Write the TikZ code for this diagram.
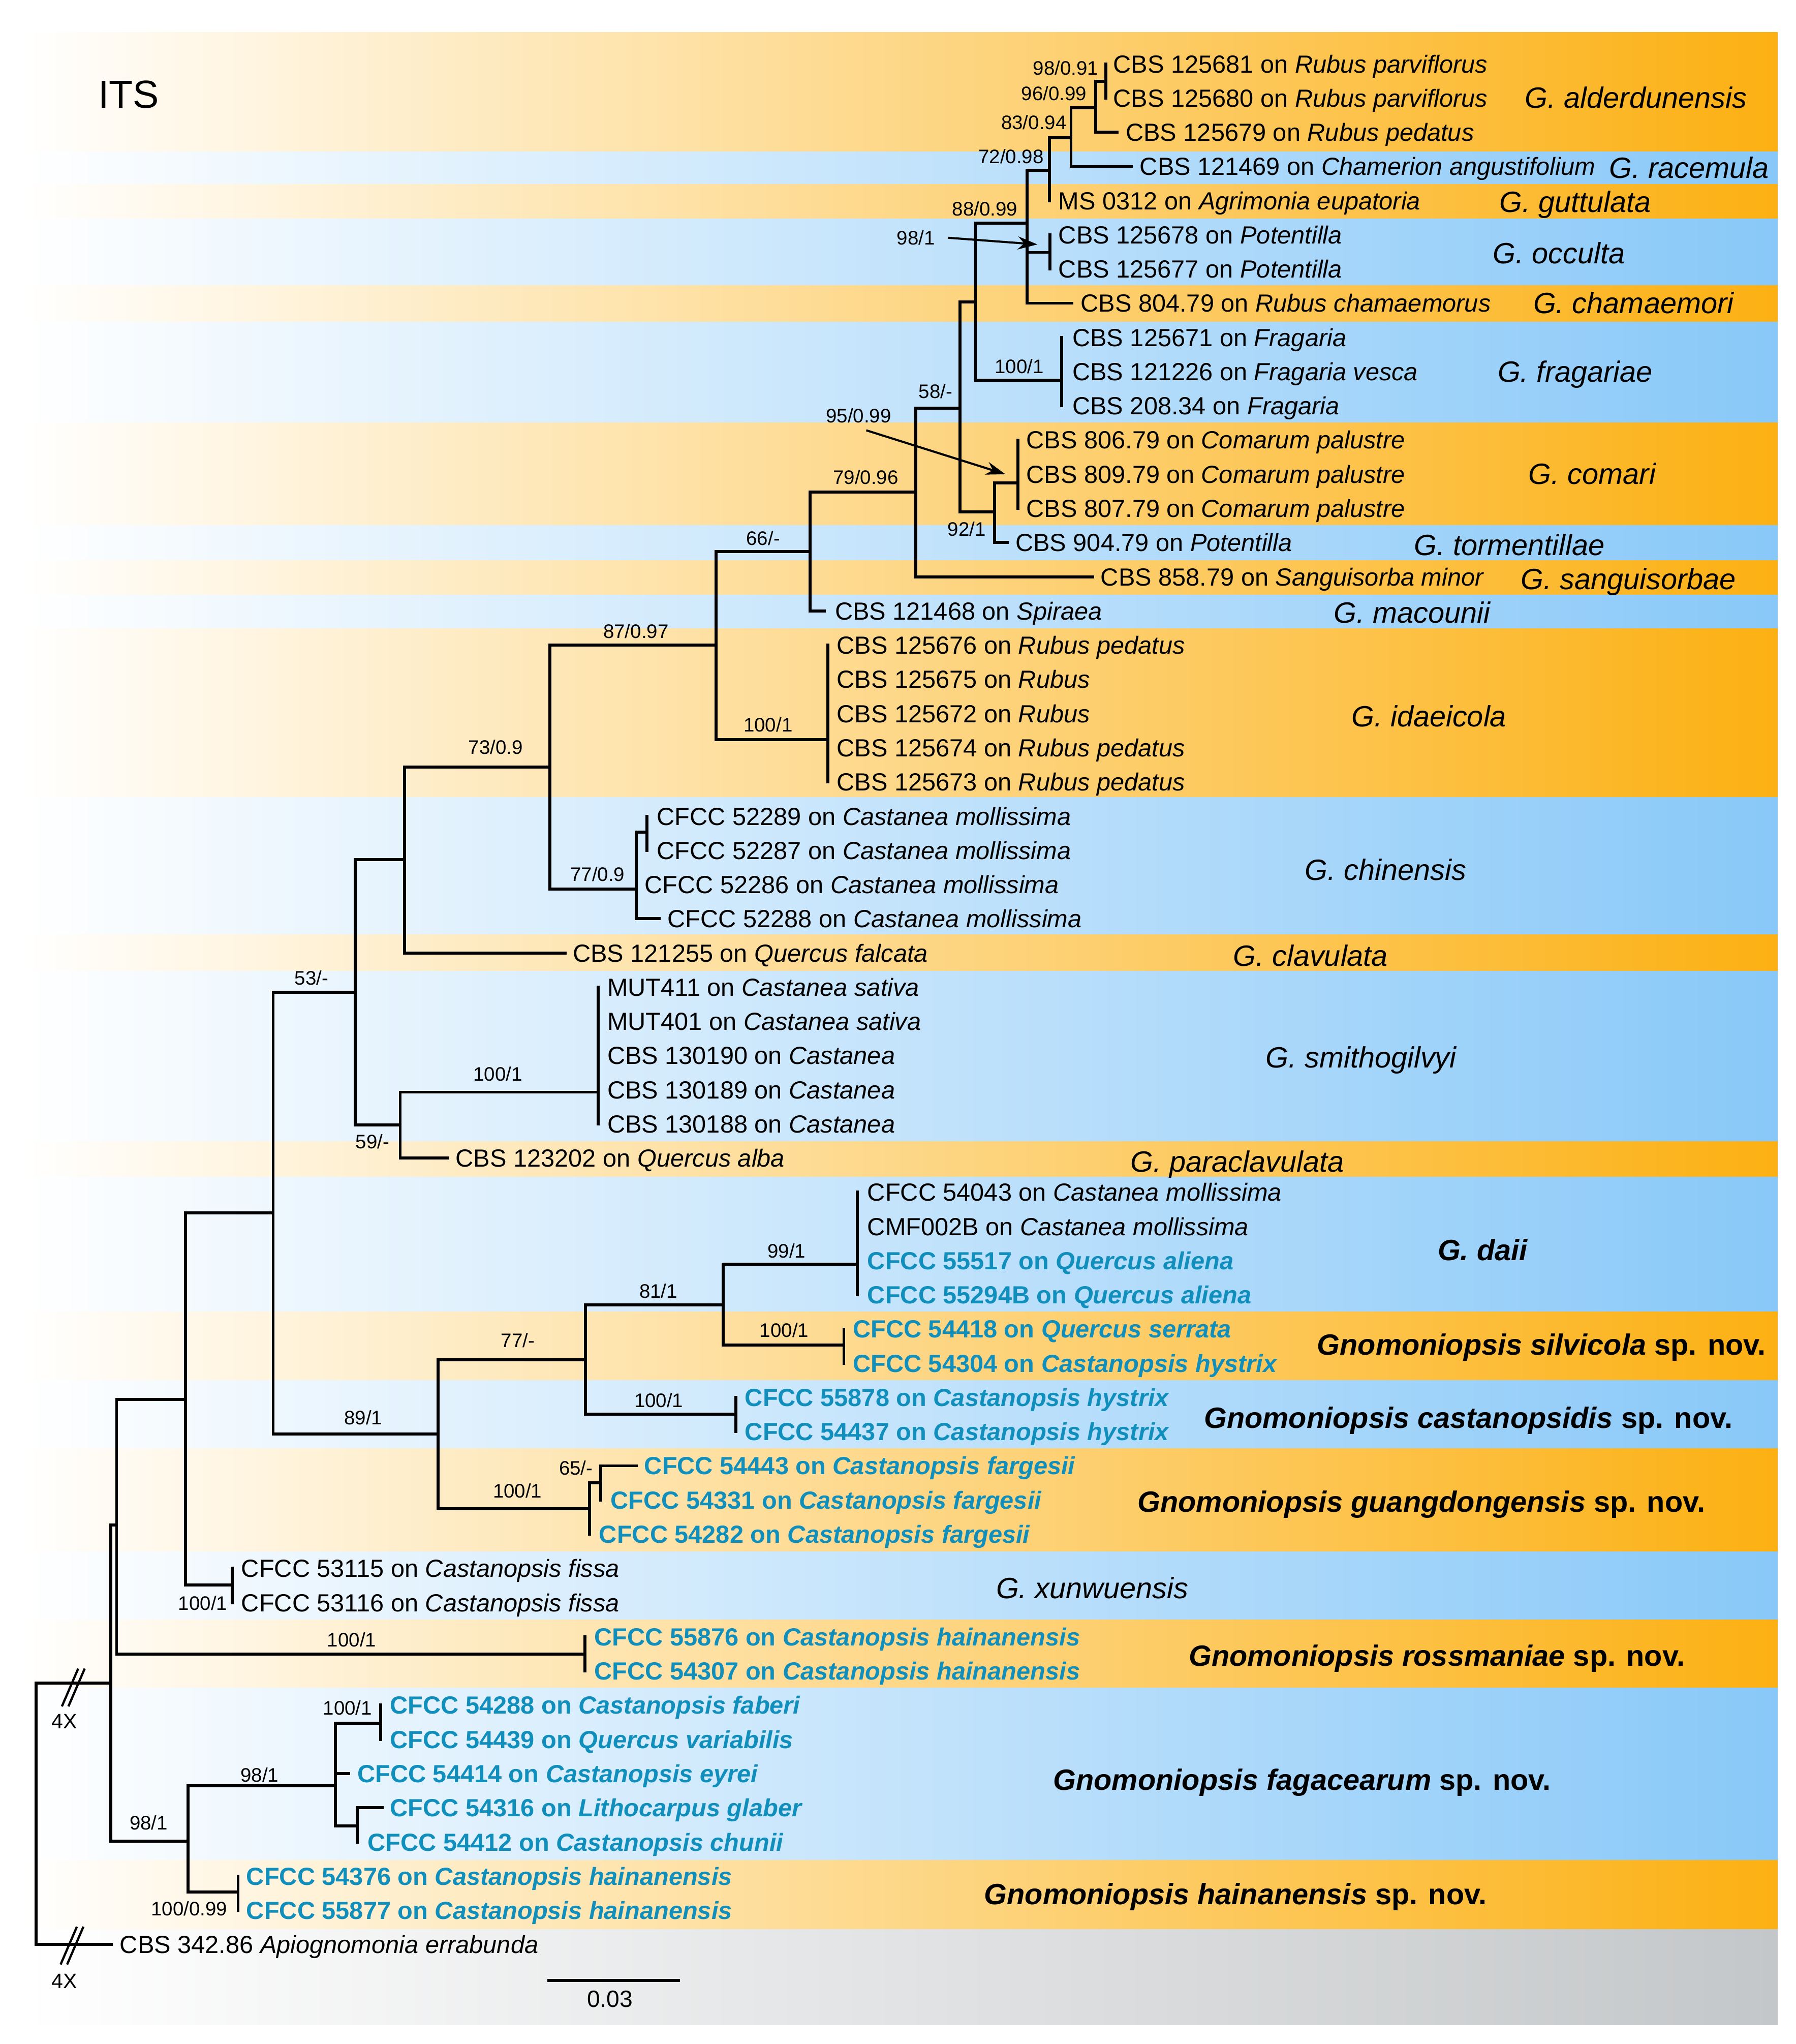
\documentclass[tikz,border=0pt]{standalone}
\usepackage{fontspec}
\setmainfont{Liberation Sans}
\usetikzlibrary{arrows.meta}
\definecolor{orgR}{RGB}{252,176,18}
\definecolor{bluR}{RGB}{136,200,248}
\definecolor{gryR}{RGB}{196,199,201}
\definecolor{leafblue}{RGB}{16,142,188}
\newcommand\BandO[2]{\shade[left color=white,right color=orgR] (17,#1) rectangle (1364,#2);}
\newcommand\BandB[2]{\shade[left color=white,right color=bluR] (17,#1) rectangle (1364,#2);}
\newcommand\BandG[2]{\shade[left color=white,right color=gryR] (17,#1) rectangle (1364,#2);}
\begin{document}
\begin{tikzpicture}[x=1pt,y=-1pt,
  br/.style={line width=2.3pt,line join=miter,line cap=rect},
  lf/.style={anchor=west,inner sep=0pt,font=\fontsize{19}{22}\selectfont,text height=13.6pt,text depth=0pt},
  lfb/.style={lf,text=leafblue,font=\fontsize{19}{22}\selectfont\bfseries},
  sup/.style={anchor=east,inner sep=0pt,font=\fontsize{15}{18}\selectfont,text height=10.7pt,text depth=0pt},
  spc/.style={anchor=west,inner sep=0pt,font=\fontsize{22.5}{26}\selectfont\itshape,text height=16.1pt,text depth=0pt},
  spb/.style={anchor=west,inner sep=0pt,font=\fontsize{22.5}{26}\selectfont\bfseries,text height=16.1pt,text depth=0pt},
  arr/.style={line width=1.6pt,-{Stealth[length=15pt,width=10pt]}}
]
\useasboundingbox (0,0) rectangle (1378,1568);
\fill[white] (0,0) rectangle (1378,1568);
% bands
\BandO{24.6}{116.5}
\BandB{116.5}{141.2}
\BandO{141.2}{168}
\BandB{168}{219}
\BandO{219}{247}
\BandB{247}{324.4}
\BandO{324.4}{403}
\BandB{403}{430}
\BandO{430}{456.5}
\BandB{456.5}{482}
\BandO{482}{611.5}
\BandB{611.5}{717}
\BandO{717}{745}
\BandB{745}{875.5}
\BandO{875.5}{903}
\BandB{903}{1006.3}
\BandO{1006.3}{1058.8}
\BandB{1058.8}{1111.2}
\BandO{1111.2}{1190.3}
\BandB{1190.3}{1242.5}
\BandO{1242.5}{1295}
\BandB{1295}{1427}
\BandO{1427}{1480}
\BandG{1480}{1553.2}

\node[anchor=west,inner sep=0pt,font=\fontsize{30}{34}\selectfont,text height=21.5pt,text depth=0pt] (its) at (75.2,72) {ITS};

% internal nodes
\coordinate (root) at (27.8,1390);
\coordinate (nA) at (85.1,1291.1);
\coordinate (nB) at (89.5,1169.8);
\coordinate (nC) at (142.4,1073.6);
\coordinate (nD) at (209.6,930.5);
\coordinate (nE) at (272.5,761.3);
\coordinate (nG) at (310.4,659.5);
\coordinate (nI) at (421.9,588.3);
\coordinate (nJ) at (549.4,494.7);
\coordinate (nL) at (621.7,423);
\coordinate (nM) at (702.8,377.5);
\coordinate (nN) at (736.5,313.3);
\coordinate (nO) at (748.5,231.6);
\coordinate (nP5) at (788,171.3);
\coordinate (nP4) at (805.4,130.6);
\coordinate (nP3) at (821.8,105.6);
\coordinate (nP2) at (840.8,82.5);
\coordinate (nP1) at (848.5,62.5);
\coordinate (nQ) at (805.6,193.6);
\coordinate (nFr) at (814.7,291.8);
\coordinate (nR) at (763.1,392.8);
\coordinate (nS) at (781.2,370.6);
\coordinate (nIda) at (635.1,567.3);
\coordinate (nK) at (488.2,681.9);
\coordinate (nK2) at (496.4,638.5);
\coordinate (nH) at (307.1,862.8);
\coordinate (nSmi) at (458.8,837.8);
\coordinate (nF) at (336.2,1100.2);
\coordinate (nT) at (449.3,1043);
\coordinate (nV) at (554.9,1001.1);
\coordinate (nDaii) at (657.8,969.7);
\coordinate (nSil) at (647.5,1031.7);
\coordinate (nCas) at (564.7,1085);
\coordinate (nU) at (452.2,1157.3);
\coordinate (nU2) at (460.8,1137.4);
\coordinate (nXun) at (178.2,1216);
\coordinate (nRos) at (449,1268.8);
\coordinate (nX) at (144.2,1412.4);
\coordinate (nY) at (257.4,1370);
\coordinate (nZ1) at (291.9,1321.8);
\coordinate (nZ2) at (274,1400.7);
\coordinate (nHai) at (182.7,1451.4);

% leaf tips
\coordinate (t1) at (848.5,49.0);
\coordinate (t2) at (848.5,75.2);
\coordinate (t3) at (857.2,101.5);
\coordinate (t4) at (868,127.7);
\coordinate (t5) at (805.4,153.9);
\coordinate (t6) at (805.6,180.2);
\coordinate (t7) at (805.6,206.4);
\coordinate (t8) at (822.6,232.6);
\coordinate (t9) at (814.7,258.8);
\coordinate (t10) at (814.7,285.1);
\coordinate (t11) at (814.7,311.3);
\coordinate (t12) at (781.2,337.5);
\coordinate (t13) at (781.2,363.8);
\coordinate (t14) at (781.2,390.0);
\coordinate (t15) at (772.8,416.2);
\coordinate (t16) at (838.5,442.5);
\coordinate (t17) at (632.5,468.7);
\coordinate (t18) at (635.1,494.9);
\coordinate (t19) at (635.1,521.1);
\coordinate (t20) at (635.1,547.4);
\coordinate (t21) at (635.1,573.6);
\coordinate (t22) at (635.1,599.8);
\coordinate (t23) at (496.4,626.1);
\coordinate (t24) at (496.4,652.3);
\coordinate (t25) at (488.2,678.5);
\coordinate (t26) at (505.7,704.8);
\coordinate (t27) at (433.7,731.0);
\coordinate (t28) at (458.8,757.2);
\coordinate (t29) at (458.8,783.4);
\coordinate (t30) at (458.8,809.7);
\coordinate (t31) at (458.8,835.9);
\coordinate (t32) at (458.8,862.1);
\coordinate (t33) at (343.3,888.4);
\coordinate (t34) at (657.8,914.6);
\coordinate (t35) at (657.8,940.8);
\coordinate (t36) at (657.8,967.1);
\coordinate (t37) at (657.8,993.3);
\coordinate (t38) at (647.5,1019.5);
\coordinate (t39) at (647.5,1045.7);
\coordinate (t40) at (564.7,1072.0);
\coordinate (t41) at (564.7,1098.2);
\coordinate (t42) at (488.4,1124.4);
\coordinate (t43) at (460.8,1150.7);
\coordinate (t44) at (452.2,1176.9);
\coordinate (t45) at (178.2,1203.1);
\coordinate (t46) at (178.2,1229.4);
\coordinate (t47) at (449,1255.6);
\coordinate (t48) at (449,1281.8);
\coordinate (t49) at (291.9,1308.0);
\coordinate (t50) at (291.9,1334.3);
\coordinate (t51) at (267.7,1360.5);
\coordinate (t52) at (293.2,1386.7);
\coordinate (t53) at (274,1413.0);
\coordinate (t54) at (182.7,1439.2);
\coordinate (t55) at (182.7,1465.4);
\coordinate (t56) at (85.5,1491.7);

% branches
\foreach \p/\c in {root/nA,root/t56,nA/nB,nA/nX,nB/nC,nB/nRos,nRos/t47,nRos/t48,
  nC/nD,nC/nXun,nXun/t45,nXun/t46,nD/nE,nD/nF,nE/nG,nE/nH,nG/nI,nG/t27,
  nI/nJ,nI/nK,nJ/nL,nJ/nIda,nIda/t18,nIda/t19,nIda/t20,nIda/t21,nIda/t22,
  nL/nM,nL/t17,nM/nN,nM/t16,nN/nO,nN/nR,nO/nP5,nO/nFr,nFr/t9,nFr/t10,nFr/t11,
  nP5/nP4,nP5/nQ,nP5/t8,nQ/t6,nQ/t7,nP4/nP3,nP4/t5,nP3/nP2,nP3/t4,nP2/nP1,nP2/t3,
  nP1/t1,nP1/t2,nR/nS,nR/t15,nS/t12,nS/t13,nS/t14,nK/nK2,nK/t25,nK/t26,nK2/t23,nK2/t24,
  nH/nSmi,nH/t33,nSmi/t28,nSmi/t29,nSmi/t30,nSmi/t31,nSmi/t32,nF/nT,nF/nU,
  nT/nV,nT/nCas,nV/nDaii,nV/nSil,nDaii/t34,nDaii/t35,nDaii/t36,nDaii/t37,
  nSil/t38,nSil/t39,nCas/t40,nCas/t41,nU/nU2,nU/t44,nU2/t42,nU2/t43,
  nX/nY,nX/nHai,nY/nZ1,nY/t51,nY/nZ2,nZ1/t49,nZ1/t50,nZ2/t52,nZ2/t53,nHai/t54,nHai/t55}
  \draw[br] (\p) |- (\c);

% break marks
\draw[line width=1.7pt] (47.5,1309) -- (60,1280) (52.5,1309) -- (65,1280);
\draw[line width=1.7pt] (46.5,1507) -- (59,1478) (51.5,1507) -- (64,1478);
\node[inner sep=0pt,font=\fontsize{16}{19}\selectfont] (x4a) at (49.3,1320.5) {4X};
\node[inner sep=0pt,font=\fontsize{16}{19}\selectfont] (x4b) at (49.3,1519.7) {4X};

% scale bar
\coordinate (sbl) at (420,1519.2);
\coordinate (sbr) at (521.6,1519.2);
\draw[line width=2.3pt] (sbl) -- (sbr);
\node[inner sep=0pt,font=\fontsize{18}{21}\selectfont] (sbt) at (468,1533.7) {0.03};

% leaf labels
\node[lf] (l1) at (854,49.0) {CBS 125681 on \textit{Rubus parviflorus}};
\node[lf] (l2) at (854,75.2) {CBS 125680 on \textit{Rubus parviflorus}};
\node[lf] (l3) at (863.6,101.5) {CBS 125679 on \textit{Rubus pedatus}};
\node[lf] (l4) at (874.4,127.7) {CBS 121469 on \textit{Chamerion angustifolium}};
\node[lf] (l5) at (812,153.9) {MS 0312 on \textit{Agrimonia eupatoria}};
\node[lf] (l6) at (812,180.2) {CBS 125678 on \textit{Potentilla}};
\node[lf] (l7) at (812,206.4) {CBS 125677 on \textit{Potentilla}};
\node[lf] (l8) at (829,232.6) {CBS 804.79 on \textit{Rubus chamaemorus}};
\node[lf] (l9) at (822.7,258.8) {CBS 125671 on \textit{Fragaria}};
\node[lf] (l10) at (822.7,285.1) {CBS 121226 on \textit{Fragaria vesca}};
\node[lf] (l11) at (822.7,311.3) {CBS 208.34 on \textit{Fragaria}};
\node[lf] (l12) at (787.4,337.5) {CBS 806.79 on \textit{Comarum palustre}};
\node[lf] (l13) at (787.4,363.8) {CBS 809.79 on \textit{Comarum palustre}};
\node[lf] (l14) at (787.4,390.0) {CBS 807.79 on \textit{Comarum palustre}};
\node[lf] (l15) at (779,416.2) {CBS 904.79 on \textit{Potentilla}};
\node[lf] (l16) at (844.4,442.5) {CBS 858.79 on \textit{Sanguisorba minor}};
\node[lf] (l17) at (640.5,468.7) {CBS 121468 on \textit{Spiraea}};
\node[lf] (l18) at (641.8,494.9) {CBS 125676 on \textit{Rubus pedatus}};
\node[lf] (l19) at (641.8,521.1) {CBS 125675 on \textit{Rubus}};
\node[lf] (l20) at (641.8,547.4) {CBS 125672 on \textit{Rubus}};
\node[lf] (l21) at (641.8,573.6) {CBS 125674 on \textit{Rubus pedatus}};
\node[lf] (l22) at (641.8,599.8) {CBS 125673 on \textit{Rubus pedatus}};
\node[lf] (l23) at (503.8,626.1) {CFCC 52289 on \textit{Castanea mollissima}};
\node[lf] (l24) at (503.8,652.3) {CFCC 52287 on \textit{Castanea mollissima}};
\node[lf] (l25) at (494.5,678.5) {CFCC 52286 on \textit{Castanea mollissima}};
\node[lf] (l26) at (512,704.8) {CFCC 52288 on \textit{Castanea mollissima}};
\node[lf] (l27) at (439.3,731.0) {CBS 121255 on \textit{Quercus falcata}};
\node[lf] (l28) at (465.8,757.2) {MUT411 on \textit{Castanea sativa}};
\node[lf] (l29) at (465.8,783.4) {MUT401 on \textit{Castanea sativa}};
\node[lf] (l30) at (465.8,809.7) {CBS 130190 on \textit{Castanea}};
\node[lf] (l31) at (465.8,835.9) {CBS 130189 on \textit{Castanea}};
\node[lf] (l32) at (465.8,862.1) {CBS 130188 on \textit{Castanea}};
\node[lf] (l33) at (349.5,888.4) {CBS 123202 on \textit{Quercus alba}};
\node[lf] (l34) at (665.4,914.6) {CFCC 54043 on \textit{Castanea mollissima}};
\node[lf] (l35) at (665.4,940.8) {CMF002B on \textit{Castanea mollissima}};
\node[lfb] (l36) at (665.4,967.1) {CFCC 55517 on \textit{Quercus aliena}};
\node[lfb] (l37) at (665.4,993.3) {CFCC 55294B on \textit{Quercus aliena}};
\node[lfb] (l38) at (654.2,1019.5) {CFCC 54418 on \textit{Quercus serrata}};
\node[lfb] (l39) at (654.2,1045.7) {CFCC 54304 on \textit{Castanopsis hystrix}};
\node[lfb] (l40) at (571.4,1072.0) {CFCC 55878 on \textit{Castanopsis hystrix}};
\node[lfb] (l41) at (571.4,1098.2) {CFCC 54437 on \textit{Castanopsis hystrix}};
\node[lfb] (l42) at (494.2,1124.4) {CFCC 54443 on \textit{Castanopsis fargesii}};
\node[lfb] (l43) at (468.4,1150.7) {CFCC 54331 on \textit{Castanopsis fargesii}};
\node[lfb] (l44) at (459.5,1176.9) {CFCC 54282 on \textit{Castanopsis fargesii}};
\node[lf] (l45) at (185,1203.1) {CFCC 53115 on \textit{Castanopsis fissa}};
\node[lf] (l46) at (185,1229.4) {CFCC 53116 on \textit{Castanopsis fissa}};
\node[lfb] (l47) at (455.8,1255.6) {CFCC 55876 on \textit{Castanopsis hainanensis}};
\node[lfb] (l48) at (455.8,1281.8) {CFCC 54307 on \textit{Castanopsis hainanensis}};
\node[lfb] (l49) at (299.1,1308.0) {CFCC 54288 on \textit{Castanopsis faberi}};
\node[lfb] (l50) at (299.1,1334.3) {CFCC 54439 on \textit{Quercus variabilis}};
\node[lfb] (l51) at (274,1360.5) {CFCC 54414 on \textit{Castanopsis eyrei}};
\node[lfb] (l52) at (299.1,1386.7) {CFCC 54316 on \textit{Lithocarpus glaber}};
\node[lfb] (l53) at (282,1413.0) {CFCC 54412 on \textit{Castanopsis chunii}};
\node[lfb] (l54) at (188.9,1439.2) {CFCC 54376 on \textit{Castanopsis hainanensis}};
\node[lfb] (l55) at (188.9,1465.4) {CFCC 55877 on \textit{Castanopsis hainanensis}};
\node[lf] (l56) at (91.8,1491.7) {CBS 342.86 \textit{Apiognomonia errabunda}};

% support values
\node[sup] (s1) at (843,52) {98/0.91};
\node[sup] (s2) at (834,71.5) {96/0.99};
\node[sup] (s3) at (818.5,94) {83/0.94};
\node[sup] (s4) at (801,120) {72/0.98};
\node[sup] (s5) at (781,160) {88/0.99};
\node[sup] (s6) at (717.5,182.4) {98/1};
\node[sup] (s7) at (801,281) {100/1};
\node[sup] (s8) at (731,300) {58/-};
\node[sup] (s9) at (684,319) {95/0.99};
\node[sup] (s10) at (689.5,366) {79/0.96};
\node[sup] (s11) at (756.5,406) {92/1};
\node[sup] (s12) at (598.7,413) {66/-};
\node[sup] (s13) at (513.2,484.2) {87/0.97};
\node[sup] (s14) at (608.3,556) {100/1};
\node[sup] (s15) at (401.3,573) {73/0.9};
\node[sup] (s16) at (479.6,670.7) {77/0.9};
\node[sup] (s17) at (252.2,750) {53/-};
\node[sup] (s18) at (401,824) {100/1};
\node[sup] (s19) at (299,875.8) {59/-};
\node[sup] (s20) at (618.4,959.7) {99/1};
\node[sup] (s21) at (520,990.3) {81/1};
\node[sup] (s22) at (620.7,1020.5) {100/1};
\node[sup] (s23) at (410.4,1028.2) {77/-};
\node[sup] (s24) at (524.4,1074.3) {100/1};
\node[sup] (s25) at (293.5,1087.5) {89/1};
\node[sup] (s26) at (455,1126) {65/-};
\node[sup] (s27) at (416,1143.8) {100/1};
\node[sup] (s28) at (174.6,1229.8) {100/1};
\node[sup] (s29) at (288.8,1257.7) {100/1};
\node[sup] (s30) at (285.6,1310) {100/1};
\node[sup] (s31) at (214,1361.6) {98/1};
\node[sup] (s32) at (128.9,1398.4) {98/1};
\node[sup] (s33) at (174.6,1464) {100/0.99};

% arrows
\coordinate (a6e) at (796,187.5);
\coordinate (a9s) at (664.7,330.1);
\coordinate (a9e) at (771.5,363.8);
\draw[arr] ([xshift=10pt]s6.east) -- (a6e);
\draw[arr] (a9s) -- (a9e);

% species labels
\node[spc] (g1) at (1170,75) {G. alderdunensis};
\node[spc] (g2) at (1234.5,128.7) {G. racemula};
\node[spc] (g3) at (1150.4,154.8) {G. guttulata};
\node[spc] (g4) at (1145.3,194) {G. occulta};
\node[spc] (g5) at (1176.3,232.3) {G. chamaemori};
\node[spc] (g6) at (1149,285) {G. fragariae};
\node[spc] (g7) at (1172.7,363.5) {G. comari};
\node[spc] (g8) at (1084.7,418) {G. tormentillae};
\node[spc] (g9) at (1166.8,444) {G. sanguisorbae};
\node[spc] (g10) at (1023.1,469.8) {G. macounii};
\node[spc] (g11) at (1036.8,549.5) {G. idaeicola};
\node[spc] (g12) at (1001,667) {G. chinensis};
\node[spc] (g13) at (946,733) {G. clavulata};
\node[spc] (g14) at (971,811) {G. smithogilvyi};
\node[spc] (g15) at (867.2,891) {G. paraclavulata};
\node[spb] (g16) at (1103,959) {\textit{G. daii}};
\node[spb] (g17) at (1010.4,1031.5) {\textit{Gnomoniopsis silvicola} sp. nov.};
\node[spb] (g18) at (923.7,1087.5) {\textit{Gnomoniopsis castanopsidis} sp. nov.};
\node[spb] (g19) at (872.7,1152) {\textit{Gnomoniopsis guangdongensis} sp. nov.};
\node[spc] (g20) at (764.1,1218) {G. xunwuensis};
\node[spb] (g21) at (912,1270) {\textit{Gnomoniopsis rossmaniae} sp. nov.};
\node[spb] (g22) at (808,1365) {\textit{Gnomoniopsis fagacearum} sp. nov.};
\node[spb] (g23) at (755,1453) {\textit{Gnomoniopsis hainanensis} sp. nov.};
\end{tikzpicture}
\end{document}
